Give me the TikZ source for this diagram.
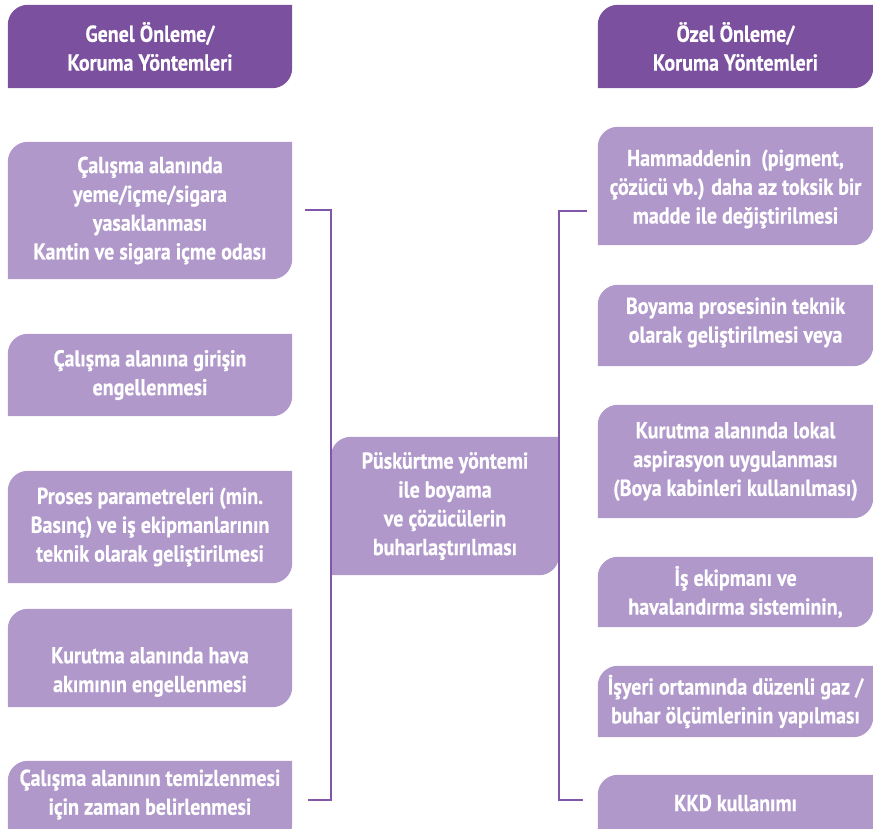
\documentclass[tikz,border=0pt]{standalone}
\usepackage{fontspec}
\setmainfont{PT Sans}[FakeStretch=0.87, BoldFeatures={FakeBold=0.5}]
\usetikzlibrary{backgrounds}

\definecolor{hdrpurple}{HTML}{7B509E}
\definecolor{boxpurple}{HTML}{B098CA}
\definecolor{linepurple}{HTML}{8057A8}

\begin{document}
\begin{tikzpicture}[
  x=1pt, y=1pt,
  txt/.style={text=white, align=center, inner sep=0pt, font=\bfseries\fontsize{23}{28.8}\selectfont},
  hdr/.style={txt, minimum height=83pt},
  lbox/.style={txt, minimum width=284pt},
  rbox/.style={txt, minimum width=275pt},
  bracket/.style={draw=linepurple, line width=2.4pt}
]
\clip (0,0) rectangle (873,-828);

% headers
\node[hdr, minimum width=284pt] (hdrL) at (150,-46.5) {Genel Önleme/\\Koruma Yöntemleri};
\node[hdr, minimum width=275pt] (hdrR) at (735.5,-46.5) {Özel Önleme/\\Koruma Yöntemleri};

% left column
\node[lbox, minimum height=137pt] (gen1) at (150,-210.5) {Çalışma alanında\\yeme/içme/sigara\\yasaklanması\\Kantin ve sigara içme odası};
\node[lbox, minimum height=82pt] (gen2) at (150,-375) {Çalışma alanına girişin\\engellenmesi};
\node[lbox, minimum height=112pt] (gen3) at (150,-527) {Proses parametreleri (min.\\Basınç) ve iş ekipmanlarının\\teknik olarak geliştirilmesi};
\node[lbox, minimum height=70pt] (gen4) at (150,-672) {Kurutma alanında hava\\akımının engellenmesi};
\node[lbox, minimum height=67pt] (gen5) at (150,-794.5) {Çalışma alanının temizlenmesi\\için zaman belirlenmesi};

% center
\node[txt, minimum width=228pt, minimum height=138pt] (proc) at (445,-506) {Püskürtme yöntemi\\ile boyama\\ve çözücülerin\\buharlaştırılması};

% right column
\node[rbox, minimum height=112pt] (oz1) at (735.5,-189) {Hammaddenin~ (pigment,\\çözücü vb.) daha az toksik bir\\madde ile değiştirilmesi};
\node[rbox, minimum height=75pt] (oz2) at (735.5,-322.5) {Boyama prosesinin teknik\\olarak geliştirilmesi veya};
\node[rbox, minimum height=113pt] (oz3) at (735.5,-461.5) {Kurutma alanında lokal\\aspirasyon uygulanması\\(Boya kabinleri kullanılması)};
\node[rbox, minimum height=70pt] (oz4) at (735.5,-592) {İş ekipmanı ve\\havalandırma sisteminin,};
\node[rbox, minimum height=71pt] (oz5) at (735.5,-701.5) {İşyeri ortamında düzenli gaz /\\buhar ölçümlerinin yapılması};
\node[rbox, minimum height=56pt] (oz6) at (735.5,-803) {KKD kullanımı};

% leaf shaped fills (top / bottom overhang)
\begin{scope}[on background layer]
  \foreach \n/\c/\t/\b in {hdrL/hdrpurple/0/0, hdrR/hdrpurple/0/0, gen1/boxpurple/0/0,
      gen2/boxpurple/0/0, gen3/boxpurple/0/0, gen4/boxpurple/28/0, gen5/boxpurple/0/16,
      proc/boxpurple/0/0, oz1/boxpurple/6/0, oz2/boxpurple/0/6, oz3/boxpurple/0/0,
      oz4/boxpurple/0/0, oz5/boxpurple/0/0, oz6/boxpurple/0/16}
    \fill[\c] ([yshift=-\b pt]\n.south west) -- ([yshift=\t pt-20pt]\n.north west)
      arc[start angle=180, end angle=90, radius=20pt] -- ([yshift=\t pt]\n.north east)
      -- ([yshift=20pt-\b pt]\n.south east) arc[start angle=0, end angle=-90, radius=20pt] -- cycle;
\end{scope}

% brackets
\coordinate (lt) at (305,-210);
\coordinate (lb) at (308,-800);
\coordinate (rt) at (587,-211);
\coordinate (rb) at (583,-800);
\draw[bracket] (lt) -- (proc.west |- lt) -- (proc.west |- lb) -- (lb);
\draw[bracket] (rt) -- (proc.east |- rt) -- (proc.east |- rb) -- (rb);
\end{tikzpicture}
\end{document}
